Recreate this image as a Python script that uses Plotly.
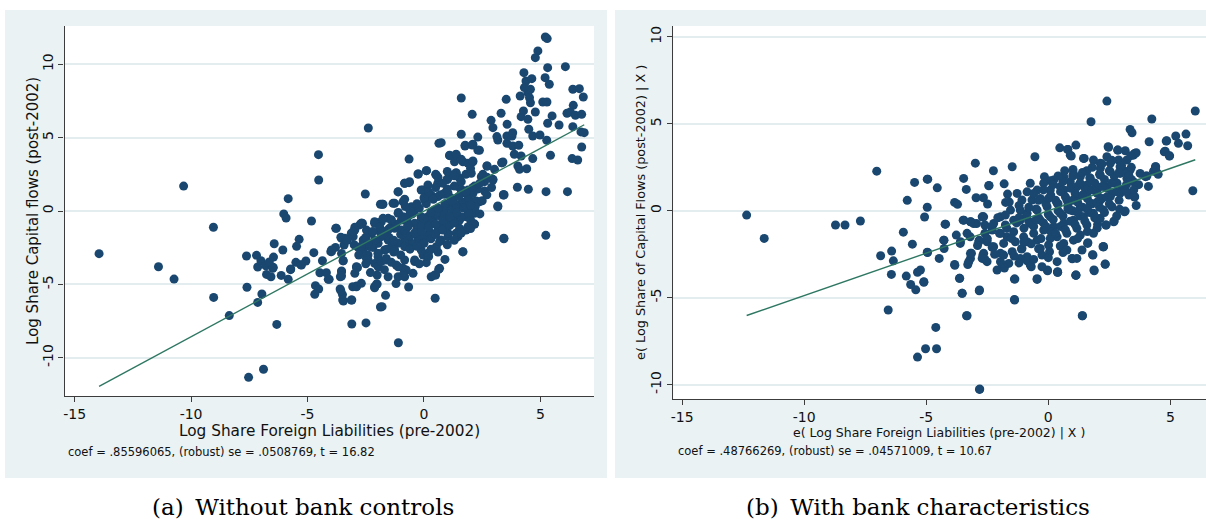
import plotly.graph_objects as go

W, H = 1206, 523

# ---------------- Panel (a) data: Log Share Foreign Liabilities vs Log Share Capital flows
xa = [-13.95, -10.32, -11.40, -10.73, -9.04, -9.03, -8.36, -7.60, -7.62, -7.19,
      -7.14, -6.96, -7.14, -7.53, -6.89, -6.32, -7.00, -6.79, -6.64, -6.46,
      -6.49, -6.76, -6.57, -6.43, -6.06, -6.13, -5.83, -5.73, -6.02, -5.92,
      -5.83, -5.47, -5.36, -5.50, -5.29, -5.07, -4.83, -4.73, -4.53, -4.52,
      -4.36, -4.47, -4.66, -4.52, -4.69, -4.19, -4.00, -2.52, -1.87, -3.79,
      -3.57, -3.43, -3.97, -3.80, -3.47, -4.07, -3.54, -3.59, -3.60, -3.50,
      -3.46, -3.10, -3.06, -2.89, -2.89, -3.10, -2.49, -1.87, -2.12, -2.01,
      -2.01, -2.97, -3.04, -2.76, -2.64, -2.47, -2.26, -2.61, -2.83, -2.61,
      -2.40, -2.19, -1.97, -1.97, -2.12, -1.97, -2.40, -2.00, -1.90, -5.26,
      -5.72, -6.47,
      0.64, 1.76, 2.07, 2.31, 3.56, 3.17, -0.64, 1.10, 1.38, 1.31,
      1.67, 2.10, 1.89, 2.70, 3.34, 0.10, -0.24, 0.50, 1.00, 1.38,
      1.24, 1.53, 2.03, 2.46, 2.96, 3.41, 3.17, 3.43, -0.83, -0.62,
      -1.11, -1.76, -1.26, -0.83, -0.04, 0.17, 0.60, 0.03, 0.31, 0.88,
      1.17, 1.60, 1.89, 2.17, 2.38, 2.20, 2.17, 1.67, -0.40, -0.69,
      -0.97, -1.54, -1.83, -2.12, -2.69, -2.97, -3.12, -3.40, -3.54, -3.54,
      -2.90, -2.69, -2.47, -2.33, -2.12, -1.83, -1.54, -1.26, -0.97, -0.69,
      -0.40, -0.12, 0.17, 0.45, 0.74, 1.03, 1.31, 1.60, 1.89, 1.81,
      1.46, 1.17, 0.88, 0.60, 0.31, 0.03, -0.26, -0.54, -0.83, -1.11,
      -1.40, -1.69, -1.97, -1.83, -1.62, -1.19, -0.83, -0.40, -0.04, 0.17,
      0.53, 0.74, 1.03, 1.38, 1.53, 0.67, 0.50, 0.31, 0.10, -0.76,
      -1.11, -0.47, -2.86,
      5.21, 5.29, 4.89, 4.78, 5.31, 6.07, 4.29, 4.38, 4.63, 5.20,
      5.38, 4.57, 4.46, 4.31, 4.13, 4.53, 4.57, 5.10, 5.28, 3.53,
      1.60, 2.07, 3.31, 2.88, 2.96, 3.57, 4.17, 4.27, 4.46, 4.78,
      5.50, 5.31, 5.80, 6.39, 6.67, 6.84, 6.41, 6.14, 6.28, 6.50,
      6.77, 6.39, 6.74, 6.88, 6.77, 6.36, 6.60, 6.16, 5.24, 4.48,
      4.01, 3.41, 3.17, 5.43, 4.67, 4.41, 4.17, 4.03, 3.88, 3.81,
      4.07, 3.78, 3.56, 3.81, 3.13, 3.39, 4.67, 4.98, 4.50, 5.27,
      4.10, 2.31, 1.60, 0.74, 1.77, 2.10, 2.38, 1.10, 1.38, 1.60,
      2.10, 2.71, 3.03, 3.34, 2.53, 2.96, 2.60, 2.17, 1.96, 2.24,
      2.17, 1.60, 1.38, 1.00, 0.88,
      -2.39, -1.79, -1.11, -0.64, -0.26, 0.11, 0.53, 1.00, 3.43, 5.23,
      3.44, 1.67, 2.17, 0.48, -1.10, -1.80, -1.65, -0.66, -1.20, 0.46,
      0.63, -0.90, -0.83, -2.90, -2.12, -2.04, -3.54, -3.49, -3.12, -3.57,
      -4.11, -2.87, -3.47, -3.76, -3.54, -3.97, -3.04, -2.69, -1.33, -0.83,
      -0.90, -0.40, -0.12, 0.17, 0.60, 1.03, 1.46, 1.89, 2.17, 1.81,
      1.46, 1.03, 0.67, 0.17, -0.12, -0.40, -1.11, -1.62, -1.97, -2.26,
      -1.54, -0.97, -0.69, -0.12, 0.45, 0.88, 1.31, 1.74, 1.53, 1.10,
      0.67, 0.24, -0.26, -0.83, -1.26, -1.40, -1.83, -2.12, -1.76, -1.11,
      -0.54, 0.03, 0.60, 1.24, 1.89, 2.00, -2.97, -2.69, -1.54,
      -1.5, -1.3, -1.0, -0.8, -0.6, -0.3, -0.1, 0.2, 0.4, 0.6,
      0.9, 1.2, 1.4, 1.7, 1.9, 2.1, 2.3, 0.0, 0.3, 0.5,
      0.8, 1.1, 1.3, 1.6, 1.9, 2.2, 2.5, -0.5, -0.2, 0.1,
      0.4, 0.7, 1.0, 1.3, -1.2, -1.5, -1.8, -2.1, -2.4, -2.7,
      -1.6, -1.3, -1.0, -0.6, -0.3, 0.3, 0.6, 1.0, -0.9, -0.6,
      -0.3, 0.0, 0.2, 0.5, 0.8, 1.6, 1.8, 2.0, 2.6, 2.9,
      2.7, 2.4, -3.3, -3.0, -2.8, -2.5, -2.3, -1.7, -1.4, -0.9,
      -0.7, -0.4, -0.1, 0.2, 0.5, 0.8, 1.1, 1.4, 1.7, 2.0,
      0.0, 0.3, 0.6, 0.9, 1.2, 1.5, 1.8, 2.1, 2.4, 2.7,
      -1.4, -1.1, -0.8, -1.9, -2.2, -2.5, 1.3, 1.0, 0.6, 0.2,
      -0.2, 0.9, 1.3, 1.6, 2.0]
ya = [-2.91, 1.70, -3.80, -4.64, -1.11, -5.89, -7.13, -5.20, -3.07, -3.02,
      -3.82, -5.66, -6.23, -11.34, -10.79, -7.73, -3.39, -3.73, -3.48, -3.14,
      -3.91, -4.32, -4.48, -2.23, -2.66, -4.39, -4.66, -4.00, -0.20, -0.48,
      0.84, -2.41, -1.93, -3.50, -3.66, -3.41, -0.68, -2.84, 3.84, 2.11,
      -3.39, -4.21, -5.09, -5.32, -5.68, -4.21, -2.77, 1.16, 0.46, -1.18,
      -1.79, -2.32, -2.77, -2.48, -3.39, -4.66, -4.09, -4.48, -5.32, -5.70,
      -6.14, -6.07, -5.16, -5.11, -3.84, -7.70, -7.63, -6.54, -5.16, -4.98,
      -4.36, -1.30, -1.75, -0.95, -0.84, -1.30, -1.52, -1.98, -2.48, -2.66,
      -3.00, -2.48, -2.20, -3.11, -3.57, -3.80, -3.34, -0.80, -1.41, -3.68,
      -3.95, -3.84,
      4.61, 4.43, 4.50, 4.16, 4.61, 4.84, 3.54, 3.77, 3.82, 3.36,
      3.36, 3.36, 3.25, 3.07, 3.29, 2.75, 2.52, 2.50, 2.16, 2.57,
      2.45, 2.23, 2.57, 2.34, 2.11, 1.09, 0.29, -1.86, 1.89, 2.00,
      1.32, 0.46, 0.52, 0.80, 1.43, 1.77, 1.89, 0.87, 1.09, 1.21,
      0.87, 1.21, 1.43, 0.63, 0.63, -0.09, -0.89, -2.77, 0.07, -0.39,
      -0.61, -0.50, -0.73, -0.73, -0.84, -1.11, -1.52, -1.86, -2.89, -4.14,
      -3.80, -2.89, -3.23, -2.43, -1.98, -1.75, -1.30, -1.18, -1.30, -1.07,
      -0.84, -0.61, -0.39, -0.16, 0.07, 0.29, 0.41, 0.52, 0.41, -0.39,
      -0.61, -0.84, -1.07, -1.30, -1.52, -1.75, -1.98, -2.20, -1.98, -2.20,
      -2.43, -2.66, -2.89, -3.45, -3.23, -3.68, -3.34, -3.45, -3.00, -2.89,
      -2.43, -1.98, -1.75, -1.52, -1.18, -3.91, -4.36, -4.48, -3.52, -4.02,
      -4.48, -4.25, -3.86,
      11.86, 11.75, 10.91, 10.45, 9.77, 9.84, 9.43, 8.86, 9.02, 9.09,
      8.64, 8.30, 8.07, 8.41, 7.84, 7.72, 7.38, 7.43, 7.43, 7.61,
      7.70, 6.59, 6.66, 6.18, 5.68, 5.91, 6.43, 6.82, 6.25, 6.75,
      6.48, 5.98, 5.86, 8.30, 8.34, 7.77, 7.20, 6.66, 6.75, 6.52,
      6.59, 5.75, 5.39, 5.34, 4.36, 3.57, 3.48, 1.32, 1.32, 1.48,
      1.62, 1.11, 0.34, 3.80, 3.57, 2.88, 3.75, 3.07, 3.87, 4.43,
      4.48, 5.11, 5.11, 5.34, 5.07, 3.34, 5.11, 5.18, 5.57, 4.82,
      2.84, 5.04, 5.23, 4.66, 4.48, 4.55, 4.14, 3.80, 3.87, 3.52,
      3.41, 3.07, 2.84, 3.29, 2.50, 2.16, 1.36, 1.70, 1.25, 0.68,
      0.00, 1.48, 2.61, 2.16, 1.14,
      5.66, 0.46, 1.30, 1.93, 2.52, 2.75, 2.45, 2.16, -1.89, -1.66,
      1.11, -2.79, -0.89, -5.95, -8.98, -6.52, -5.75, -5.18, -4.95, -4.36,
      -3.98, -3.91, -4.48, -5.16, -5.23, -4.98, -4.43, -6.07, -6.07, -5.43,
      -4.66, -3.86, -3.39, -1.18, -1.86, -2.66, -1.41, -0.84, 0.52, 1.89,
      0.63, 0.07, 1.43, 0.98, 1.89, 1.21, 1.66, 0.75, -0.16, -1.30,
      -1.75, -1.52, -2.09, -2.89, -2.66, -3.34, -3.80, -3.34, -2.89, -2.43,
      -1.98, -1.52, -0.84, -0.39, 0.07, 0.29, 0.52, 0.29, -0.61, -0.61,
      -1.07, -1.52, -1.75, -2.43, -2.66, -1.07, -1.30, -0.84, -0.50, -0.16,
      0.29, 0.75, 0.98, -0.39, -1.07, -0.61, -4.25, -4.93, -4.48,
      -1.8, -2.0, -1.6, -1.4, -1.7, -1.2, -1.0, -0.8, -0.5, -0.3,
      -0.2, 0.1, 0.3, 0.6, 0.9, 1.2, 1.5, -2.2, -1.9, -1.6,
      -1.3, -1.0, -0.8, -0.4, -0.1, 0.3, 0.7, -0.2, 0.2, 0.5,
      0.8, 1.1, 1.5, 1.7, -0.9, -1.2, -1.6, -2.0, -2.2, -2.4,
      -2.6, -2.8, -3.0, -2.6, -2.4, -2.6, -2.8, -2.3, -0.4, 0.0,
      0.5, 0.9, 1.3, 1.6, 1.9, 2.0, 2.5, 2.9, 2.0, 1.6,
      1.1, -0.2, -2.0, -2.3, -3.0, -3.6, -4.2, -4.0, -3.5, -4.4,
      -1.0, -1.5, -1.4, -1.1, -0.9, -0.6, -0.4, -0.1, 0.2, 0.4,
      -0.5, -0.1, 0.2, 0.5, 0.7, 1.0, 1.3, 1.6, 1.9, 2.3,
      -0.6, -0.1, 0.3, -1.1, -1.4, -1.8, 2.4, 2.7, 2.3, -3.1,
      -3.6, -3.3, -2.0, -1.5, -1.2]

# ---------------- Panel (b) data: added-variable residuals
xb = [-12.36, -11.64, -8.72, -8.33, -7.70, -7.03, -6.87, -6.42, -6.35, -6.43,
      -6.56, -5.94, -5.78, -5.57, -5.48, -5.82, -5.64, -5.43, -5.36, -5.10,
      -5.36, -5.07, -4.96, -4.96, -4.96,
      -5.03, -4.61, -2.82, -3.35, 1.39, -1.39, -2.83, -3.53, -3.64, -1.37,
      -0.46, -0.04, 0.38, 1.13, 1.87, 2.33, 2.26, 1.81, 1.61, 0.97,
      2.37, 2.68, 2.12, 3.12, 3.54, 3.54, 3.98, 4.13, 4.24, 3.35,
      3.43, 2.40, 1.75, 4.75, 4.83, 4.97, 5.22, 5.33, 5.64, 5.71,
      6.02, 5.92, 4.39, 4.31, 4.43, -0.55, 0.47, 0.79, 1.13, 0.90,
      1.47, 2.45, 2.84, 3.15, -1.48, -2.25, -2.99, -3.47, -3.36, -2.43,
      -1.81, -2.96, -2.66, -2.49, -1.67, -1.75, -3.84, -3.72, -4.23, -3.49,
      -4.28, -4.27, -3.77, -3.61, -4.95, -4.47, -3.84, -3.30, -3.15, -3.19,
      -2.68, -2.60, -2.83, -2.52, -2.29, -3.18, -2.94, -2.60, -2.68,
      -0.16, 0.08, 0.67, 1.01, 1.58, 1.44, 1.85, 2.13, 2.40, 2.88,
      3.22, 3.49, 3.60, 4.40, 4.00, 3.49, 3.53, 3.15, 2.92, 2.70,
      2.36, 2.02, 2.10, 1.62, 2.26, 1.83, 2.33, 1.88, 1.13, 0.98,
      0.38, -0.03, -0.46, -1.39, -2.82, 0.49, 0.01, 0.05, -0.33, -0.26,
      -0.74, -0.87, -1.08, -1.62, -1.96, -1.83, -1.48, -1.35, -1.83, -2.24,
      -2.65, -3.19, -3.26, -2.71, -2.51, -2.85, -2.30, -2.65, -1.96, -3.06,
      -3.46, -1.76, -1.42, -1.15, -1.08, -0.67, -0.33, 0.08, 0.49, 0.90,
      1.31, 1.72, 2.13, 2.54, 2.94, 3.22, 2.81, 2.40, 1.99, 1.58,
      1.17, 0.76, 0.36, -0.05, -0.46, -0.87, -1.15, -0.74, -0.33, 0.08,
      0.49, 0.90, 1.31, 1.72, 2.13, 2.54, 2.94, 2.61, 2.26, 1.85,
      1.44, 1.03, 0.63, 0.22, -0.19, -0.60, -1.01, -1.42, -1.69, -0.46,
      0.36, 0.76, 1.17, 1.58, 1.85, 1.31, 1.03, 0.63, 0.08, -0.87,
      -1.96, -2.24, -1.55, -1.28, -0.87, -0.46, -0.74, -0.19, 0.22, 0.63,
      1.03, 2.13, 2.54, 2.94, 3.35, 3.76, 0.63, 1.17, 1.58, -3.33,
      -3.60, -2.51, -2.10, -1.89, -0.26, 0.36, 1.17, 1.38, 0.76,
      4.85, 4.79, 4.96, 4.38, 4.04, 2.47, 2.85, 3.56, 3.38, 0.80,
      0.94, -4.94, -4.55, -2.44, -4.21, -4.28, -5.24, -5.10, -3.83, -3.63,
      -3.53, -3.33, -4.58, -2.81, -1.38, 1.40, 1.13, 0.38, 2.24, -2.07,
      -1.76, -2.71, -3.19, -2.30, -1.96, -1.15, -0.87, -0.70, -0.40,
      -1.0, -0.8, -0.6, -0.4, -0.2, 0.0, 0.2, 0.4, 0.6, 0.8,
      1.0, 1.2, 1.4, 1.6, 1.8, 2.0, 2.2, 2.4, 2.6, 2.8,
      3.0, 3.2, 3.4, 3.1, 2.7, 2.3, 1.9, 1.5, 1.1, 0.7,
      0.3, -0.1, -0.5, -0.9, -1.3, -1.7, -2.0, -1.4, -1.1, -0.7,
      -0.3, 0.1, 0.5, 0.9, 1.3, 1.7, 2.1, 2.5, 2.9, 3.3,
      0.2, 0.6, 1.0, 1.4, 1.8, 2.2, 2.6, 3.0, 3.4, 3.7,
      -0.6, -0.2, -1.2, -1.6, -2.3, -2.6, -2.9, -3.2, -1.8, -1.2,
      -0.6, 0.0, 0.6, 1.2, 1.6, 2.0, 2.8, 3.6, 4.1, 4.5,
      0.1, 0.5, 0.9, 1.3, 1.7, 2.1, 2.5, 2.9, 3.3, 3.5,
      0.0, 0.4, 0.8, 1.2, 1.6, 2.0, 2.4, 2.8, 3.2, 1.0,
      1.4, 1.8, 2.2, 2.6, -0.4, -0.8, -1.2, -0.5, -0.1, 0.3,
      0.7, 1.1, 1.5, 1.9, 2.3, -1.5, -1.0, -2.2, -2.5, 0.4]
yb = [-0.25, -1.59, -0.82, -0.82, -0.59, 2.28, -2.59, -2.32, -2.88, -3.66,
      -5.71, -1.23, 0.60, -1.92, 1.63, -3.76, -4.24, -4.55, -3.54, -4.08,
      -8.42, -0.36, 0.20, 1.82, -2.38,
      -7.94, -6.71, -10.28, -6.04, -6.04, -5.10, -4.60, -4.75, -3.89, -3.93,
      -3.91, -3.41, -3.51, -3.70, -3.41, -3.07, -2.07, -2.53, -1.88, -2.74,
      -0.82, -0.63, -0.44, -0.06, 0.81, 3.30, 1.96, 3.97, 5.28, 4.68,
      4.49, 6.31, 5.12, 3.39, 4.01, 3.16, 4.30, 3.88, 4.41, 3.74,
      5.74, 1.15, 2.53, 2.28, 2.24, 3.11, 3.62, 3.53, 3.78, 3.20,
      3.01, 3.68, 3.49, 3.45, 2.53, 2.30, 2.74, 1.86, 1.23, 1.46,
      1.55, 0.75, 0.75, 0.39, 0.96, 0.48, 0.48, 0.37, -0.77, -0.54,
      -1.69, -2.17, -1.40, -1.88, -2.40, -2.74, -3.09, -3.09, -2.45, -2.74,
      -2.55, -2.80, -1.69, -1.69, -2.07, -0.63, -0.73, -0.82, -0.35,
      1.96, 1.73, 2.30, 2.38, 2.30, 3.01, 2.92, 2.73, 3.11, 2.92,
      2.92, 3.20, 3.34, 2.53, 2.00, 1.67, 0.79, -0.02, 0.08, -0.59,
      -0.82, -0.78, -0.44, -1.84, -2.07, -2.55, -3.08, -3.45, -3.70, -2.76,
      -3.54, -3.45, -3.95, -3.93, -4.56, -2.03, -1.97, -2.36, -2.17, -2.55,
      -3.12, -2.64, -2.17, -3.03, -2.93, -2.55, -2.36, -1.78, -1.88, -2.07,
      -2.45, -2.45, -2.93, -2.74, -1.78, -1.78, -1.11, -0.35, -0.35, -0.73,
      -0.54, -0.82, -0.54, 0.04, 0.62, 0.62, 0.71, 1.19, 1.38, 1.67,
      1.96, 1.86, 2.05, 2.24, 2.15, 1.86, 1.58, 1.38, 1.19, 1.00,
      0.81, 0.62, 0.43, 0.23, 0.04, -0.15, -0.54, -0.73, -0.54, -0.35,
      -0.15, 0.04, 0.23, 0.43, 0.62, 0.81, 1.00, 0.23, 0.04, -0.15,
      -0.35, -0.54, -0.73, -0.92, -1.11, -1.30, -1.50, -1.21, -1.50, -1.69,
      -1.50, -1.30, -1.01, -0.82, -1.30, -1.40, -1.69, -1.88, -1.59, -1.78,
      -1.30, -0.73, 0.04, 1.00, 1.09, 1.19, 1.58, 1.58, 1.77, 1.96,
      2.15, 2.44, 2.73, 2.53, 2.34, 2.15, 1.19, 1.38, 1.48, -1.30,
      -1.78, -2.93, -3.41, -3.12, -3.22, -2.93, -2.74, -2.26, -2.26,
      4.03, 3.43, 3.15, 2.40, 2.00, 3.65, 3.49, 3.30, 3.17, 3.53,
      3.15, 1.82, 1.32, 1.44, -0.77, -1.69, -3.41, -4.12, -3.14, -3.89,
      -4.75, -6.04, -7.94, -10.26, -5.14, -6.04, -3.72, -3.54, -2.07, -0.40,
      -0.25, -0.35, -0.63, -2.11, -2.45, -2.74, -2.88, -3.22, -2.19,
      -1.0, -0.6, -0.9, -0.4, -0.7, -0.2, -0.5, 0.0, -0.3, 0.3,
      0.0, 0.5, 0.2, 0.7, 0.4, 1.0, 0.7, 1.3, 1.0, 1.6,
      1.2, 1.5, 1.8, 2.3, 2.0, 1.8, 1.6, 1.3, 1.0, 0.8,
      0.6, 0.4, 0.1, -0.3, -0.7, -1.0, -1.3, -2.6, -2.2, -1.9,
      -1.6, -1.2, -0.9, -0.6, -0.3, -0.1, 0.2, 0.4, 0.6, 0.9,
      1.5, 1.7, 2.0, 2.2, 2.5, 2.7, 2.9, 2.6, 2.5, 1.5,
      1.0, 1.2, 0.3, 0.5, -0.9, -1.3, -2.0, -1.5, -3.3, -3.0,
      -2.8, -2.7, -2.4, -1.6, -1.2, -1.0, -0.3, 0.3, 1.4, 2.1,
      0.9, 1.1, 1.3, 1.6, 1.9, 2.1, 2.3, 2.2, 2.0, 1.2,
      0.7, 0.4, 0.1, -0.1, 0.1, 0.5, 0.8, 1.1, 1.1, 0.6,
      0.9, 1.2, 1.4, 1.6, 0.6, 0.2, -0.4, -0.5, -0.9, -1.3,
      -1.1, -0.8, -0.6, -0.4, -0.1, -1.6, -1.8, -2.5, -1.6, 2.0]

# Regression slopes reported in the notes (intercepts ~0)
coef_a, icpt_a = 0.85596065, -0.01
coef_b, icpt_b = 0.48766269, 0.0

x_ticks = [-15, -10, -5, 0, 5]
y_ticks = [-10, -5, 0, 5, 10]
x_tick_text = ["-15", "-10", "-5", "0", "5"]
y_tick_text = ["-10", "-5", "0", "5", "10"]

NAVY = "#1a476f"
FIT = "#2e7762"
BG = "#eaf2f3"
GRID = "#e3ecee"
AX = "#3c3c3c"
FONT = "DejaVu Sans"


def px2x(p):
    return p / W


def px2y(p):
    return 1 - p / H


fig = go.Figure()

fig.add_trace(go.Scatter(x=xa, y=ya, mode="markers", xaxis="x", yaxis="y",
                         marker=dict(color=NAVY, size=9, line=dict(width=0)),
                         showlegend=False, hoverinfo="x+y"))
la = [min(xa), max(xa)]
fig.add_trace(go.Scatter(x=la, y=[coef_a * v + icpt_a for v in la], mode="lines",
                         xaxis="x", yaxis="y", line=dict(color=FIT, width=1.4),
                         showlegend=False))

fig.add_trace(go.Scatter(x=xb, y=yb, mode="markers", xaxis="x2", yaxis="y2",
                         marker=dict(color=NAVY, size=9, line=dict(width=0)),
                         showlegend=False, hoverinfo="x+y"))
lb = [min(xb), max(xb)]
fig.add_trace(go.Scatter(x=lb, y=[coef_b * v + icpt_b for v in lb], mode="lines",
                         xaxis="x2", yaxis="y2", line=dict(color=FIT, width=1.4),
                         showlegend=False))

xcommon = dict(tickvals=x_ticks, ticktext=x_tick_text, ticks="outside", ticklen=5,
               tickwidth=1.2, tickcolor=AX, showline=True, linecolor=AX, linewidth=1.4,
               showgrid=False, zeroline=False, fixedrange=True,
               tickfont=dict(family=FONT, size=14, color="#111111"))
ycommon = dict(tickvals=y_ticks, ticktext=y_tick_text, ticks="outside", ticklen=5,
               tickwidth=1.2, tickcolor=AX, showline=True, linecolor=AX, linewidth=1.4,
               showgrid=True, gridcolor=GRID, gridwidth=1.5, zeroline=False,
               tickangle=-90, fixedrange=True,
               tickfont=dict(family=FONT, size=14, color="#111111"))

fig.update_layout(
    xaxis=dict(domain=[px2x(62.7), px2x(593)], range=[-15.43, 7.30], anchor="y", **xcommon),
    yaxis=dict(domain=[px2y(396), px2y(26)], range=[-12.61, 12.61], anchor="x", **ycommon),
    xaxis2=dict(domain=[px2x(672.3), px2x(1206)], range=[-15.37, 6.46], anchor="y2", **xcommon),
    yaxis2=dict(domain=[px2y(399), px2y(26)], range=[-10.83, 10.63], anchor="x2", **ycommon),
)

shapes = [
    dict(type="rect", xref="paper", yref="paper", x0=px2x(3), x1=px2x(606), y0=px2y(478), y1=px2y(10),
         fillcolor=BG, line=dict(width=0), layer="below"),
    dict(type="rect", xref="paper", yref="paper", x0=px2x(614), x1=px2x(1206), y0=px2y(478), y1=px2y(10),
         fillcolor=BG, line=dict(width=0), layer="below"),
    dict(type="rect", xref="paper", yref="paper", x0=px2x(62.7), x1=px2x(593), y0=px2y(396), y1=px2y(26),
         fillcolor="white", line=dict(width=0), layer="below"),
    dict(type="rect", xref="paper", yref="paper", x0=px2x(672.3), x1=px2x(1206), y0=px2y(399), y1=px2y(26),
         fillcolor="white", line=dict(width=0), layer="below"),
]


def ann(text, x, y, size, angle=0, xanchor="center", family=FONT, color="#111111"):
    return dict(text=text, x=px2x(x), y=px2y(y), xref="paper", yref="paper", showarrow=False,
                xanchor=xanchor, yanchor="middle", textangle=angle,
                font=dict(family=family, size=size, color=color))


annotations = [
    ann("Log Share Foreign Liabilities (pre-2002)", 327.9, 431, 15.3),
    ann("Log Share Capital flows (post-2002)", 31, 211, 15, angle=-90),
    ann("coef = .85596065, (robust) se = .0508769, t = 16.82", 64, 452, 11.5, xanchor="left"),
    ann("e( Log Share Foreign Liabilities (pre-2002) | X )", 939, 432, 12.5),
    ann("e( Log Share of Capital Flows (post-2002) | X )", 640, 212, 12.8, angle=-90),
    ann("coef = .48766269, (robust) se = .04571009, t = 10.67", 675, 451, 11.5, xanchor="left"),
    ann("(a)\u2002Without bank controls", 302, 507, 23, family="DejaVu Serif", color="#000000"),
    ann("(b)\u2002With bank characteristics", 918, 507, 23, family="DejaVu Serif", color="#000000"),
]

fig.update_layout(
    width=W, height=H, margin=dict(l=0, r=0, t=0, b=0),
    paper_bgcolor="white", plot_bgcolor="rgba(0,0,0,0)",
    shapes=shapes, annotations=annotations, showlegend=False,
)

fig.write_html("out.html", config={"displayModeBar": False},
               post_script="document.body.style.margin='0';document.body.style.overflow='hidden';")
